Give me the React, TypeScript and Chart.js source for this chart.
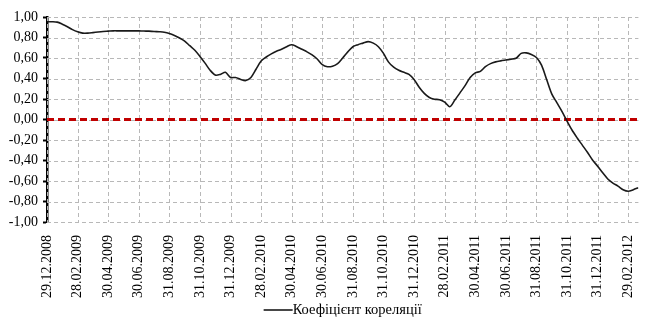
import React, { useEffect, useRef } from 'react';
import { Chart, registerables } from 'chart.js';

Chart.register(...registerables);

const tickLabels = [
  '29.12.2008', '28.02.2009', '30.04.2009', '30.06.2009', '31.08.2009',
  '31.10.2009', '31.12.2009', '28.02.2010', '30.04.2010', '30.06.2010',
  '31.08.2010', '31.10.2010', '31.12.2010', '28.02.2011', '30.04.2011',
  '30.06.2011', '31.08.2011', '31.10.2011', '31.12.2011', '29.02.2012',
];

// number of observations between two labelled dates
const pointsPerTick = 6;

const correlation = [
  0.954, 0.954, 0.95, 0.93, 0.905, 0.877, 0.856, 0.843, 0.843, 0.848,
  0.854, 0.859, 0.862, 0.865, 0.865, 0.865, 0.865, 0.865, 0.865, 0.863,
  0.862, 0.858, 0.856, 0.852, 0.84, 0.82, 0.795, 0.765, 0.72, 0.675,
  0.615, 0.55, 0.48, 0.434, 0.44, 0.46, 0.41, 0.41, 0.39, 0.38,
  0.41, 0.49, 0.57, 0.61, 0.64, 0.665, 0.685, 0.71, 0.73, 0.71,
  0.685, 0.66, 0.63, 0.59, 0.535, 0.515, 0.52, 0.545, 0.6, 0.66,
  0.71, 0.73, 0.745, 0.76, 0.745, 0.71, 0.645, 0.56, 0.51, 0.48,
  0.46, 0.44, 0.39, 0.315, 0.255, 0.215, 0.198, 0.193, 0.17, 0.125,
  0.19, 0.26, 0.33, 0.41, 0.455, 0.47, 0.515, 0.545, 0.562, 0.572,
  0.58, 0.588, 0.597, 0.645, 0.65, 0.635, 0.605, 0.53, 0.39, 0.25,
  0.165, 0.08, -0.015, -0.105, -0.18, -0.25, -0.32, -0.395, -0.455, -0.52,
  -0.58, -0.62, -0.65, -0.685, -0.7, -0.685, -0.665,
];

const zeroLevel = 0;
const seriesLabel = 'Коефіцієнт кореляції';
const yMin = -1;
const yMax = 1;
const yStep = 0.2;

const FONT = "'Liberation Serif', 'Times New Roman', serif";
const GRID_COLOR = '#b8b8b8';
const GRID_DASH = [4, 3];

// dashed grid drawn from the scales' own ticks
const dashedGridPlugin = {
  id: 'dashedGrid',
  beforeDatasetsDraw(chart: any) {
    const { ctx, chartArea, scales } = chart;
    ctx.save();
    ctx.strokeStyle = GRID_COLOR;
    ctx.lineWidth = 1;
    ctx.setLineDash(GRID_DASH);
    scales.y.ticks.forEach((t: any) => {
      const py = Math.round(scales.y.getPixelForValue(t.value)) + 0.5;
      ctx.beginPath();
      ctx.moveTo(chartArea.left, py);
      ctx.lineTo(chartArea.right, py);
      ctx.stroke();
    });
    scales.x.ticks.forEach((t: any) => {
      const px = Math.round(scales.x.getPixelForValue(t.value)) + 0.5;
      ctx.beginPath();
      ctx.moveTo(px, chartArea.top);
      ctx.lineTo(px, chartArea.bottom);
      ctx.stroke();
    });
    ctx.restore();
  },
};

const legendPlugin = {
  id: 'lineLegend',
  afterDraw(chart: any) {
    const { ctx, chartArea } = chart;
    const ds = chart.data.datasets[0];
    ctx.save();
    ctx.font = `14.5px ${FONT}`;
    const lineW = 29;
    const textW = ctx.measureText(ds.label).width;
    const total = lineW + textW;
    const cx = (chartArea.left + chartArea.right) / 2;
    const x0 = cx - total / 2;
    const y = chart.height - 8;
    ctx.strokeStyle = ds.borderColor;
    ctx.lineWidth = 1.6;
    ctx.beginPath();
    ctx.moveTo(x0, y);
    ctx.lineTo(x0 + lineW, y);
    ctx.stroke();
    ctx.fillStyle = '#000';
    ctx.textAlign = 'left';
    ctx.textBaseline = 'middle';
    ctx.fillText(ds.label, x0 + lineW, y);
    ctx.restore();
  },
};

export default function App() {
  const canvasRef = useRef<HTMLCanvasElement | null>(null);

  useEffect(() => {
    if (!canvasRef.current) return;
    const lastIndex = correlation.length - 1;
    const chart = new Chart(canvasRef.current, {
      type: 'line',
      data: {
        datasets: [
          {
            label: seriesLabel,
            data: correlation.map((v, i) => ({ x: i, y: v })),
            borderColor: '#1a1a1a',
            backgroundColor: '#1a1a1a',
            borderWidth: 1.6,
            pointRadius: 0,
            tension: 0.3,
          },
          {
            label: 'zero',
            data: [
              { x: 0, y: zeroLevel },
              { x: lastIndex, y: zeroLevel },
            ],
            borderColor: '#c00000',
            borderWidth: 3,
            borderDash: [7, 4],
            pointRadius: 0,
          },
        ],
      },
      plugins: [dashedGridPlugin, legendPlugin],
      options: {
        animation: false,
        responsive: false,
        maintainAspectRatio: false,
        layout: { padding: { top: 17, right: 0, bottom: 20, left: 0 } },
        plugins: {
          legend: { display: false },
          tooltip: { enabled: false },
        },
        scales: {
          x: {
            type: 'linear',
            min: 0,
            max: lastIndex,
            afterFit: (scale: any) => {
              scale.height = 76;
            },
            ticks: {
              stepSize: pointsPerTick,
              includeBounds: false,
              autoSkip: false,
              maxRotation: 90,
              minRotation: 90,
              padding: 5,
              color: '#000',
              font: { family: FONT, size: 14 },
              callback: (value: any) => {
                const idx = Math.round(Number(value) / pointsPerTick);
                return tickLabels[idx] ?? '';
              },
            },
            grid: {
              display: false,
            },
            border: { display: false },
          },
          y: {
            min: yMin,
            max: yMax,
            afterFit: (scale: any) => {
              scale.width = 47;
            },
            ticks: {
              stepSize: yStep,
              color: '#000',
              padding: 5,
              font: { family: FONT, size: 14 },
              callback: (value: any) => {
                const v = Math.abs(Number(value)) < 1e-9 ? 0 : Number(value);
                return v.toFixed(2).replace('.', ',');
              },
            },
            grid: {
              color: 'rgba(0,0,0,0)',
              lineWidth: 1,
              tickLength: 4,
              tickColor: '#000',
              tickWidth: 2,
            },
            border: { display: true, color: '#000', width: 2.5 },
          },
        },
      },
    });
    return () => chart.destroy();
  }, []);

  return (
    <div style={{ position: 'fixed', left: 0, top: 0, width: 650, height: 318, background: '#fff' }}>
      <canvas ref={canvasRef} width={650} height={318} style={{ width: 650, height: 318 }} />
    </div>
  );
}
